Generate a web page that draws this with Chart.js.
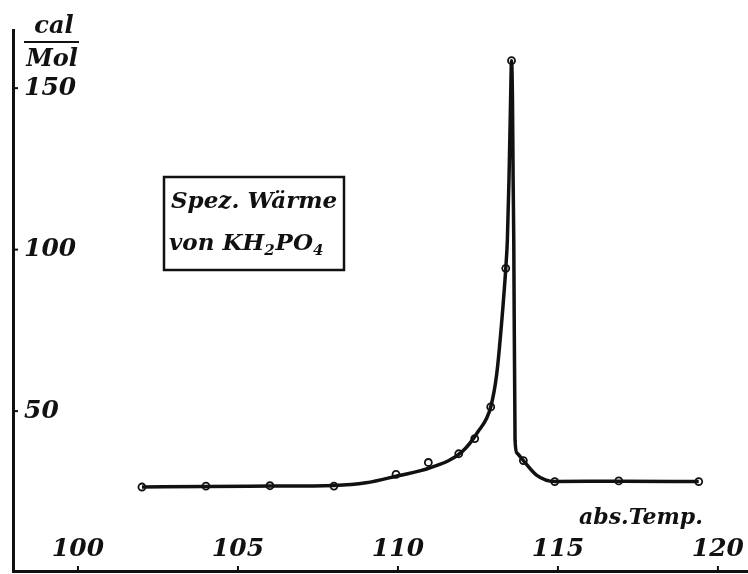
<!DOCTYPE html>
<html>
<head>
<meta charset="utf-8">
<script src="https://cdn.jsdelivr.net/npm/chart.js@4"></script>
<style>
  html, body { margin: 0; background: #fff; }
</style>
</head>
<body>
<canvas id="cp" width="748" height="574"></canvas>
<script>
// measured points (open circles), T in K, Cp in cal/Mol
const measT  = [102, 104, 106, 108, 109.94, 110.95, 111.9, 112.4, 112.9, 113.37, 113.55, 113.92, 114.9, 116.9, 119.4];
const measCp = [26.5, 26.8, 26.9, 26.8, 30.4, 34.1, 36.8, 41.5, 51.3, 94.2, 158.5, 34.7, 28.2, 28.4, 28.2];

// the hand drawn curve
const curveT  = [102, 104, 106, 108, 109, 110, 111, 112, 112.5, 112.9, 113.09, 113.24, 113.37, 113.42, 113.47, 113.52, 113.55, 113.58, 113.6, 113.62, 113.66, 113.72, 113.92, 114.33, 114.9, 117, 119.4];
const curveCp = [26.5, 26.7, 26.8, 27.0, 27.8, 30.0, 32.4, 37.4, 43.6, 51.3, 61.7, 77.3, 94.2, 103, 121.5, 146, 158.5, 146, 121.5, 103, 41, 37, 34.7, 30.2, 28.2, 28.3, 28.2];

const xTicks = [100, 105, 110, 115, 120];
const yTicks = [50, 100, 150];

const INK = '#111';
const SERIF = "'DejaVu Serif', 'Liberation Serif', serif";

function toXY(xs, ys) { return xs.map((x, i) => ({ x: x, y: ys[i] })); }

// small inward tick marks + the free texts (unit, box, axis name)
const decor = {
  id: 'decor',
  afterDraw(chart) {
    const { ctx, chartArea: a, scales: { x, y } } = chart;
    ctx.save();
    ctx.strokeStyle = INK;
    ctx.fillStyle = INK;
    ctx.lineWidth = 2;
    x.ticks.forEach(t => {
      const px = x.getPixelForValue(t.value);
      ctx.beginPath(); ctx.moveTo(px, a.bottom); ctx.lineTo(px, a.bottom - 5); ctx.stroke();
    });
    y.ticks.forEach(t => {
      const py = y.getPixelForValue(t.value);
      ctx.beginPath(); ctx.moveTo(a.left, py); ctx.lineTo(a.left + 5, py); ctx.stroke();
    });

    // unit cal / Mol
    ctx.textAlign = 'center';
    ctx.textBaseline = 'alphabetic';
    ctx.font = "bold italic 24px " + SERIF;
    ctx.fillText('cal', 54, 33);
    ctx.fillText('Mol', 52, 66);
    ctx.beginPath(); ctx.moveTo(24, 42); ctx.lineTo(79, 42); ctx.stroke();

    // axis name
    ctx.textAlign = 'left';
    ctx.font = "bold italic 22px " + SERIF;
    ctx.fillText('abs.Temp.', 579, 524);

    // label box
    ctx.lineWidth = 2.5;
    ctx.strokeRect(164, 177, 180, 93);
    ctx.font = "bold italic 23px " + SERIF;
    ctx.fillText('Spez. Wärme', 171, 208);
    let cx = 169;
    const parts = [['von KH', 0], ['2', 1], ['PO', 0], ['4', 1]];
    parts.forEach(([s, sub]) => {
      ctx.font = "bold italic " + (sub ? 15 : 23) + "px " + SERIF;
      ctx.fillText(s, cx, sub ? 255 : 250);
      cx += ctx.measureText(s).width + (sub ? 1 : 0);
    });
    ctx.restore();
  }
};

new Chart(document.getElementById('cp'), {
  type: 'line',
  data: {
    datasets: [
      {
        data: toXY(curveT, curveCp),
        borderColor: INK,
        borderWidth: 3.5,
        pointRadius: 0,
        cubicInterpolationMode: 'monotone',
        fill: false,
        clip: false
      },
      {
        data: toXY(measT, measCp),
        showLine: false,
        pointRadius: 3.5,
        pointBackgroundColor: '#fff',
        pointBorderColor: INK,
        pointBorderWidth: 1.8,
        clip: false
      }
    ]
  },
  options: {
    responsive: false,
    devicePixelRatio: 1,
    animation: false,
    layout: { autoPadding: false, padding: { left: 13, top: 30, right: 0, bottom: 3 } },
    plugins: { legend: { display: false }, tooltip: { enabled: false } },
    scales: {
      x: {
        type: 'linear',
        min: 97.97,
        max: 120.94,
        afterBuildTicks: s => { s.ticks = xTicks.map(v => ({ value: v })); },
        afterFit: s => { s.height = 0; s.paddingLeft = 0; s.paddingRight = 0; },
        grid: { display: false, drawTicks: false },
        border: { display: true, color: INK, width: 3 },
        ticks: {
          mirror: true,
          padding: 0,
          color: INK,
          font: { family: SERIF, size: 25, style: 'italic', weight: 'bold', lineHeight: 1.7 }
        }
      },
      y: {
        type: 'linear',
        min: 0.5,
        max: 168,
        afterBuildTicks: s => { s.ticks = yTicks.map(v => ({ value: v })); },
        afterFit: s => { s.width = 0; s.paddingTop = 0; s.paddingBottom = 0; },
        grid: { display: false, drawTicks: false },
        border: { display: true, color: INK, width: 3 },
        ticks: {
          mirror: true,
          padding: 11,
          color: INK,
          font: { family: SERIF, size: 25, style: 'italic', weight: 'bold' }
        }
      }
    }
  },
  plugins: [decor]
});
</script>
</body>
</html>
